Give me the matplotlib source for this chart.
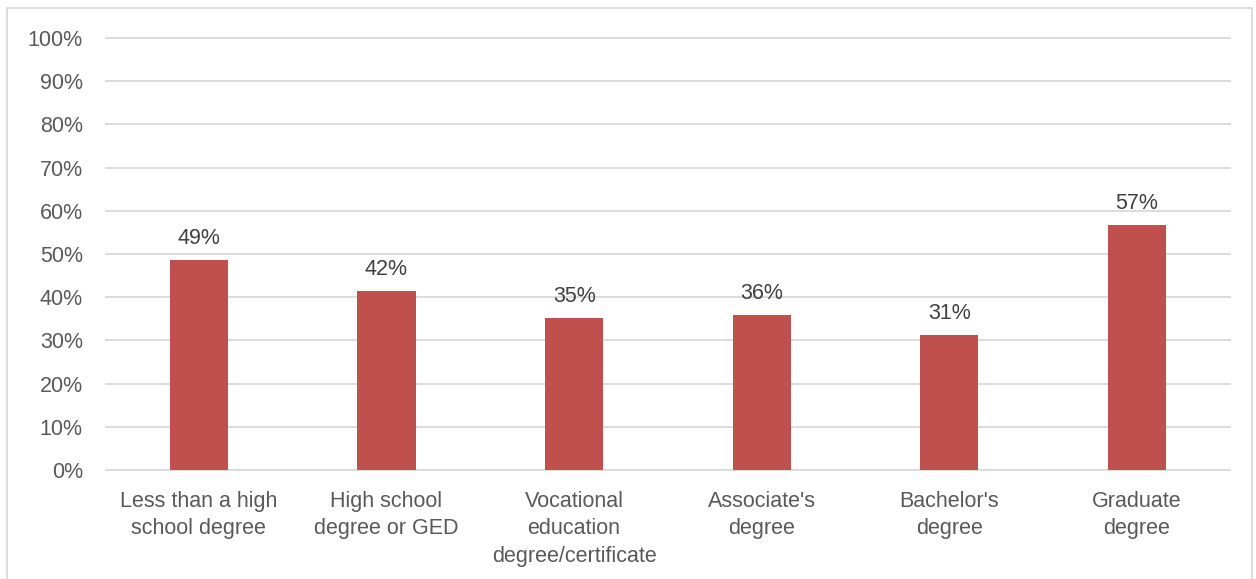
import matplotlib.pyplot as plt
from matplotlib.patches import Rectangle

plt.rcParams['font.family'] = ['Liberation Sans', 'DejaVu Sans']

# Share of respondents by highest education level
categories = ['Less than a high\nschool degree', 'High school\ndegree or GED',
              'Vocational\neducation\ndegree/certificate', "Associate's\ndegree",
              "Bachelor's\ndegree", 'Graduate\ndegree']
shares = [48.6, 41.5, 35.2, 35.9, 31.3, 56.6]

fig = plt.figure(figsize=(12.56, 5.79), dpi=100)
ax = fig.add_axes([0.0836, 0.1883, 0.8964, 0.7461])

x = range(len(categories))
bars = ax.bar(x, shares, width=0.31, color='#C0504D', zorder=3)

for b, v in zip(bars, shares):
    ax.annotate(f'{v:.0f}%', (b.get_x() + b.get_width() / 2, v),
                xytext=(0, 8), textcoords='offset points',
                ha='center', va='bottom', fontsize=15.5, color='#404040')

ticks = list(range(0, 101, 10))
ax.set_ylim(0, 100)
ax.set_xlim(-0.5, len(categories) - 0.5)
ax.set_yticks(ticks)
ax.set_yticklabels([f'{t}%' for t in ticks])
ax.set_xticks(list(x))
ax.set_xticklabels(categories, linespacing=1.4)
ax.tick_params(axis='both', length=0, labelsize=15.5, colors='#595959')
ax.tick_params(axis='y', pad=16)
ax.tick_params(axis='x', pad=15)
ax.hlines(ticks, -0.5, len(categories) - 0.5, color='#D9D9D9',
          linewidth=1.3, zorder=0, clip_on=False)
for s in ax.spines.values():
    s.set_visible(False)

# outer chart border
fig.patches.append(Rectangle((7 / 1256, -0.05), 1245 / 1256, 1 - 8 / 579 + 0.05,
                             transform=fig.transFigure, fill=False,
                             edgecolor='#D9D9D9', linewidth=1.3))

fig.savefig('out.png', dpi=100)
